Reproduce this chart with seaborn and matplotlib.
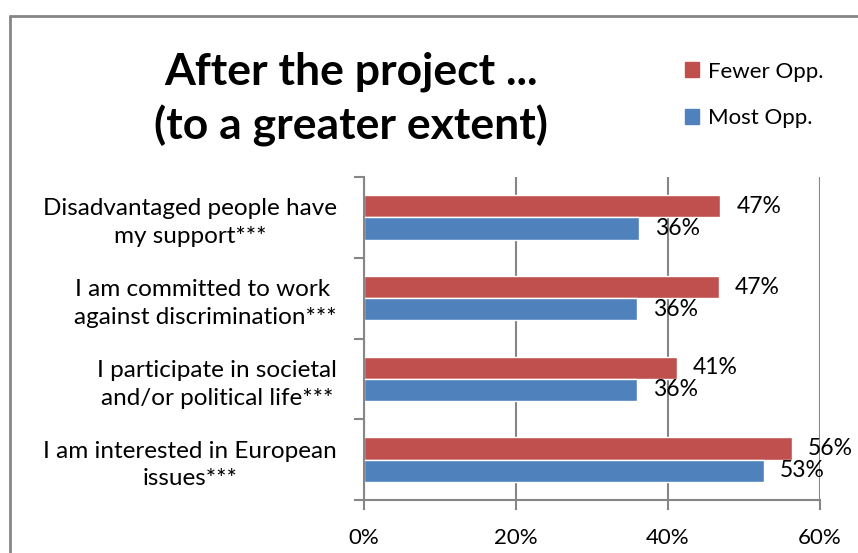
import pandas as pd
import seaborn as sns
import matplotlib.pyplot as plt
from matplotlib.ticker import FuncFormatter, FixedLocator

# 数据
categories = [
    "Disadvantaged people have\nmy support***",
    "I am committed to work \nagainst discrimination***",
    "I participate in societal\nand/or political life***",
    "I am interested in European\nissues***",
]
fewer_opp = [46.9, 46.7, 41.2, 56.3]
most_opp = [36.2, 35.9, 35.9, 52.6]
series = ["Fewer Opp.", "Most Opp."]
colors = {"Fewer Opp.": "#C0504D", "Most Opp.": "#4F81BD"}

df = pd.DataFrame({"cat": categories, "Fewer Opp.": fewer_opp, "Most Opp.": most_opp})
df_melt = df.melt(id_vars="cat", var_name="group", value_name="value")

sns.set_theme(style="white")
plt.rcParams['font.family'] = ['Lato', 'DejaVu Sans']
plt.rcParams['text.color'] = 'black'
plt.rcParams['xtick.labelcolor'] = 'black'
plt.rcParams['ytick.labelcolor'] = 'black'
grid_col = "#868686"

fig = plt.figure(figsize=(8.58, 5.53), dpi=100)
ax = fig.add_axes([363.5 / 858, 1 - 500 / 553, (820 - 363.5) / 858, (500 - 177) / 553])

sns.barplot(data=df_melt, y="cat", x="value", hue="group", hue_order=series,
            palette=colors, orient="h", width=0.55, saturation=1, ax=ax, legend=False)

# 数值标签
for cont in ax.containers:
    vals = [b.get_width() for b in cont]
    ax.bar_label(cont, labels=[f"{v:.0f}%" for v in vals], padding=11.5, fontsize=16.5, color="black")

ax.set_xlim(0, 60)
ax.set_ylim(3.5, -0.5)
ax.set_xticks([0, 20, 40, 60])
ax.xaxis.set_major_formatter(FuncFormatter(lambda v, p: f"{v:.0f}%"))
ax.grid(axis="x", color=grid_col, linewidth=1.5)
ax.set_axisbelow(True)
ax.set_xlabel("")
ax.set_ylabel("")

for s in ["top", "right"]:
    ax.spines[s].set_visible(False)
for s in ["left", "bottom"]:
    ax.spines[s].set_color(grid_col)
    ax.spines[s].set_linewidth(1.5)

ax.tick_params(axis="x", bottom=True, length=7, width=1.5, color=grid_col, labelsize=16, pad=13)
ax.tick_params(axis="y", which="major", left=False, length=0, labelsize=17.5, pad=19)
ax.yaxis.set_minor_locator(FixedLocator([-0.5, 0.5, 1.5, 2.5, 3.5]))
ax.tick_params(axis="y", which="minor", left=True, length=7, width=1.5, color=grid_col)
for lab in ax.get_yticklabels():
    lab.set_multialignment("center")
    lab.set_linespacing(1.4)

# 标题
fig.text(351 / 858, 1 - 99 / 553, "After the project ...\n(to a greater extent)",
         ha="center", va="center", fontsize=32, fontweight="bold", linespacing=1.38,
         color="black")

# 图例
handles = [plt.Rectangle((0, 0), 1, 1, color=colors[s]) for s in series]
fig.legend(handles, series, loc="center left", bbox_to_anchor=(685 / 858, 1 - 95 / 553),
           frameon=False, fontsize=16, handlelength=0.65, handleheight=0.65,
           handletextpad=0.4, labelspacing=1.2, borderpad=0, borderaxespad=0)

# 外框
fig.add_artist(plt.Line2D([10 / 858, 1], [1 - 16 / 553] * 2, color=grid_col, lw=2))
fig.add_artist(plt.Line2D([10 / 858] * 2, [0, 1 - 16 / 553], color=grid_col, lw=2))

plt.savefig("out.png", dpi=100)
